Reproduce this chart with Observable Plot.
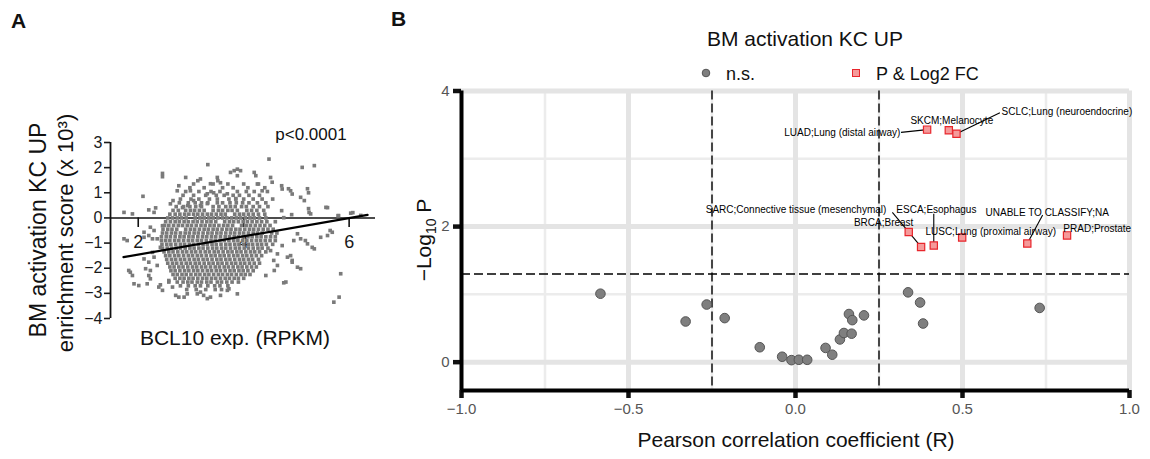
<!DOCTYPE html>
<html>
<head>
<meta charset="utf-8">
<script src="https://cdn.jsdelivr.net/npm/d3@7"></script>
<script src="https://cdn.jsdelivr.net/npm/@observablehq/plot@0.6"></script>
<style>
html,body{margin:0;padding:0;background:#fff;}
#wrap{position:relative;width:1150px;height:459px;overflow:hidden;font-family:"Liberation Sans",Arial,Helvetica,sans-serif;}
#wrap svg{position:absolute;overflow:visible;}
</style>
</head>
<body>
<div id="wrap"></div>
<script>
// ---------------- Panel A data ----------------
const aYTicks = [-4, -3, -2, -1, 0, 1, 2, 3];
const aXTicks = [2, 4, 6];
const aXDomain = [1.474, 6.5];
const aYDomain = [-4, 3];
const regX = [1.72, 6.35];
const regY = [-1.56, 0.12];

// scattered samples (BCL10 RPKM, enrichment score x10^3)
const sparsePts = [
  [4.48,2.34],[3.32,2.12],[2.46,1.77],[2.46,1.64],[5.11,2.01],[5.34,2.08],[2.09,0.86],[1.73,0.22],
  [1.89,0.16],[2.20,0.32],[2.33,0.40],[2.30,0.22],[2.61,0.56],[2.66,0.69],[2.74,1.08],[2.77,1.28],
  [2.90,1.61],[3.13,1.48],[3.18,1.55],[3.50,1.61],[3.51,1.48],[3.75,1.81],[3.82,1.88],[3.88,1.94],
  [3.94,1.88],[4.20,1.81],[4.23,1.68],[4.26,1.35],[4.35,1.08],[4.51,1.61],[4.54,1.42],[4.72,1.28],
  [4.73,1.15],[4.89,1.08],[4.92,0.95],[5.15,0.69],[5.08,0.82],[5.24,0.22],[5.27,0.16],[5.56,0.42],
  [5.79,0.09],[6.03,0.19],[4.91,0.13],[4.72,0.29],[2.99,1.08],[2.84,0.41],[2.94,0.49],[3.05,0.69],
  [3.37,1.36],[3.56,1.40],[3.88,1.68],[3.31,0.96],[3.43,1.00],[3.69,0.96],[3.18,0.49],[3.31,0.57],
  [3.85,0.77],[5.21,1.16],[5.23,1.00],[5.59,0.41],[5.23,0.37],[4.76,0.01],[5.80,0.09],[6.07,0.21],
  [4.85,1.16],[6.22,0.10],
  [5.02,-0.63],[5.08,-0.83],[5.21,-1.03],[5.34,-1.23],[5.46,-0.77],[5.59,-0.70],[5.68,-0.57],[4.92,-1.69],
  [5.02,-1.96],[5.08,-2.02],[4.80,-2.55],[5.84,-2.22],[5.71,-3.35],[5.81,-3.15],[4.58,-2.09],[4.51,-1.30],
  [4.64,-1.43],[4.76,-2.58],[4.92,-1.76],[4.42,-2.29],[5.30,-1.17],[5.64,-0.50],[5.17,-0.90],[4.95,-0.90],
  [4.83,-1.56],[4.89,-1.50],[4.73,-1.10],[4.64,-1.89],[4.57,-1.69],
  [1.73,-0.83],[1.79,-0.90],[1.82,-2.09],[1.89,-2.29],[1.85,-2.16],[1.92,-2.62],[2.01,-2.69],[2.20,-2.29],
  [2.23,-2.42],[2.17,-2.62],[2.39,-2.75],[2.46,-2.88],[2.42,-2.66],[2.58,-2.55],[2.65,-2.75],[2.71,-3.08],
  [2.77,-3.15],[2.87,-3.15],[2.93,-3.02],[3.12,-3.02],[3.18,-2.95],[3.24,-3.08],[3.31,-3.21],[3.37,-3.15],
  [3.56,-3.08],[3.69,-2.88],[3.72,-2.82],[3.88,-3.02],[2.23,-0.37],[2.30,-0.50],[2.11,-0.77],[2.11,-1.63],
  [2.20,-1.76],[2.30,-1.56],[2.36,-1.89],[2.14,-2.02],[2.27,-1.37],[2.42,-1.17],[2.36,-0.83],[2.11,-0.57],
  [2.20,-0.70],[2.27,-0.83],[2.46,-0.31],[2.23,-2.09],[2.58,-2.49]
];

// dense core of the cloud, read row by row: [score, [BCL10 values]]
const coreRows = [
  [1.35, [3.05, 3.42, 3.70, 4.00, 4.28]],
  [1.20, [2.98, 3.25, 3.60, 3.80, 4.08, 4.40]],
  [1.05, [2.90, 3.15, 3.38, 3.55, 3.88, 4.05, 4.20, 4.45]],
  [0.90, [2.85, 3.05, 3.28, 3.48, 3.63, 3.80, 3.92, 4.10, 4.30]],
  [0.75, [2.80, 3.00, 3.15, 3.35, 3.50, 3.72, 3.85, 4.00, 4.18, 4.35, 4.55]],
  [0.60, [2.78, 2.95, 3.08, 3.20, 3.32, 3.50, 3.60, 3.74, 3.86, 3.98, 4.10, 4.26, 4.42]],
  [0.45, [2.72, 2.86, 2.98, 3.09, 3.20, 3.42, 3.53, 3.66, 3.75, 3.84, 3.96, 4.05, 4.18, 4.30, 4.46]],
  [0.30, [2.66, 2.76, 2.90, 2.99, 3.07, 3.16, 3.25, 3.42, 3.52, 3.60, 3.70, 3.78, 3.88, 4.06, 4.15, 4.25, 4.38]],
  [0.15, [2.60, 2.70, 2.79, 2.88, 2.96, 3.05, 3.13, 3.22, 3.31, 3.39, 3.48, 3.57, 3.65, 3.83, 3.92, 4.00, 4.09, 4.18, 4.28, 4.40]],
  [0.00, [2.56, 2.65, 2.74, 2.82, 2.91, 3.08, 3.17, 3.25, 3.34, 3.42, 3.51, 3.60, 3.68, 3.77, 3.86, 3.94, 4.03, 4.12, 4.20, 4.30, 4.42]],
  [-0.15, [2.52, 2.61, 2.70, 2.78, 2.87, 2.95, 3.04, 3.12, 3.21, 3.30, 3.38, 3.47, 3.64, 3.73, 3.81, 3.90, 3.99, 4.07, 4.16, 4.25, 4.34, 4.44, 4.60]],
  [-0.30, [2.50, 2.58, 2.67, 2.76, 2.84, 2.93, 3.01, 3.10, 3.19, 3.27, 3.36, 3.44, 3.53, 3.62, 3.70, 3.79, 3.96, 4.05, 4.13, 4.22, 4.31, 4.40, 4.50]],
  [-0.45, [2.47, 2.56, 2.64, 2.73, 2.90, 2.99, 3.07, 3.16, 3.25, 3.33, 3.42, 3.50, 3.59, 3.68, 3.76, 3.85, 3.93, 4.02, 4.11, 4.19, 4.28, 4.37, 4.46, 4.56]],
  [-0.60, [2.46, 2.54, 2.63, 2.71, 2.80, 2.89, 2.97, 3.06, 3.14, 3.23, 3.32, 3.40, 3.49, 3.57, 3.66, 3.75, 3.83, 3.92, 4.00, 4.09, 4.18, 4.26, 4.35, 4.53, 4.63]],
  [-0.75, [2.44, 2.53, 2.61, 2.70, 2.79, 2.87, 2.96, 3.04, 3.13, 3.22, 3.30, 3.39, 3.47, 3.56, 3.65, 3.73, 3.82, 3.90, 3.99, 4.08, 4.16, 4.25, 4.33, 4.42, 4.51, 4.60]],
  [-0.90, [2.44, 2.52, 2.60, 2.69, 2.77, 2.86, 2.95, 3.03, 3.12, 3.20, 3.29, 3.38, 3.46, 3.55, 3.63, 3.72, 3.81, 3.89, 3.98, 4.06, 4.15, 4.24, 4.32, 4.41, 4.50, 4.60]],
  [-1.05, [2.45, 2.54, 2.62, 2.71, 2.80, 2.88, 2.97, 3.05, 3.14, 3.23, 3.31, 3.40, 3.48, 3.57, 3.66, 3.74, 3.83, 3.91, 4.00, 4.09, 4.17, 4.26, 4.34, 4.43, 4.55]],
  [-1.20, [2.46, 2.55, 2.63, 2.72, 2.80, 2.89, 2.98, 3.06, 3.15, 3.23, 3.32, 3.41, 3.49, 3.58, 3.66, 3.75, 3.84, 3.92, 4.01, 4.09, 4.18, 4.27, 4.35, 4.46]],
  [-1.35, [2.49, 2.58, 2.66, 2.75, 2.84, 2.92, 3.01, 3.09, 3.18, 3.27, 3.35, 3.44, 3.52, 3.61, 3.70, 3.78, 3.87, 3.95, 4.04, 4.13, 4.21, 4.30, 4.42]],
  [-1.50, [2.52, 2.60, 2.69, 2.77, 2.86, 2.95, 3.03, 3.12, 3.20, 3.29, 3.38, 3.46, 3.55, 3.63, 3.72, 3.81, 3.89, 3.98, 4.06, 4.15, 4.24, 4.34]],
  [-1.65, [2.54, 2.63, 2.71, 2.80, 2.88, 2.97, 3.06, 3.14, 3.23, 3.31, 3.40, 3.49, 3.57, 3.66, 3.74, 3.83, 3.92, 4.00, 4.09, 4.17, 4.28]],
  [-1.80, [2.56, 2.65, 2.73, 2.82, 2.91, 2.99, 3.08, 3.16, 3.25, 3.34, 3.42, 3.51, 3.59, 3.68, 3.77, 3.85, 3.94, 4.02, 4.11, 4.20, 4.30]],
  [-1.95, [2.60, 2.68, 2.77, 2.85, 2.94, 3.03, 3.11, 3.20, 3.28, 3.37, 3.46, 3.54, 3.63, 3.71, 3.80, 3.89, 3.97, 4.06, 4.15, 4.24]],
  [-2.10, [2.62, 2.70, 2.79, 2.88, 2.96, 3.05, 3.13, 3.22, 3.31, 3.39, 3.48, 3.56, 3.65, 3.74, 3.82, 3.91, 3.99, 4.08, 4.18]],
  [-2.25, [2.66, 2.74, 2.83, 2.91, 3.00, 3.09, 3.17, 3.26, 3.34, 3.43, 3.52, 3.60, 3.69, 3.77, 3.86, 3.95, 4.03, 4.12]],
  [-2.40, [2.70, 2.79, 2.87, 2.96, 3.04, 3.13, 3.22, 3.30, 3.39, 3.47, 3.56, 3.65, 3.73, 3.82, 3.90, 4.00]],
  [-2.55, [2.74, 2.85, 2.94, 3.02, 3.12, 3.20, 3.30, 3.38, 3.50, 3.58, 3.68, 3.78, 3.90]],
  [-2.70, [2.80, 2.95, 3.08, 3.18, 3.32, 3.45, 3.55, 3.70]],
  [-2.85, [2.92, 3.10, 3.28, 3.46, 3.58]]
];

// ---------------- Panel B data ----------------
const bXTicks = [-1, -0.5, 0, 0.5, 1];
const bYTicks = [0, 2, 4];
const bMajorX = [-0.5, 0, 0.5, 1];
const bMinorX = [-0.75, -0.25, 0.25, 0.75];
const bMajorY = [0, 2, 4];
const bMinorY = [1, 3];
const rCut = [-0.25, 0.25];
const pCut = [1.301];

// not significant
const nsR = [-0.584, -0.329, -0.266, -0.212, -0.107, -0.040, -0.012, 0.010, 0.035, 0.090, 0.110, 0.133, 0.145, 0.168, 0.160, 0.170, 0.205, 0.337, 0.373, 0.382, 0.731];
const nsP = [1.01, 0.60, 0.85, 0.65, 0.22, 0.08, 0.03, 0.035, 0.035, 0.21, 0.11, 0.335, 0.43, 0.42, 0.71, 0.62, 0.69, 1.03, 0.88, 0.57, 0.80];

// significant (P & Log2 FC)
const sigLabel = ["LUAD;Lung (distal airway)", "SKCM;Melanocyte", "SCLC;Lung (neuroendocrine)", "BRCA;Breast",
  "SARC;Connective tissue (mesenchymal)", "ESCA;Esophagus", "LUSC;Lung (proximal airway)", "UNABLE TO CLASSIFY;NA", "PRAD;Prostate"];
const sigR = [0.394, 0.459, 0.482, 0.339, 0.376, 0.414, 0.499, 0.694, 0.813];
const sigP = [3.43, 3.42, 3.37, 1.92, 1.70, 1.72, 1.84, 1.75, 1.87];
// label anchor (data units) and side
const labR = [0.314, 0.344, 0.617, 0.353, 0.272, 0.302, 0.389, 0.569, 0.802];
const labP = [3.39, 3.56, 3.69, 2.05, 2.25, 2.25, 1.93, 2.20, 1.96];
const labSide = ["end", "start", "start", "end", "end", "start", "start", "start", "start"];
// connector start (data units) — null when the label sits on the point
const conR = [0.316, null, 0.612, null, 0.290, 0.414, null, 0.740, null];
const conP = [3.39, null, 3.68, null, 2.21, 2.19, null, 2.17, null];

// ---------------- build ----------------
const wrap = document.getElementById("wrap");
const FONT = "'Liberation Sans', Arial, Helvetica, sans-serif";
const minus = d => (d < 0 ? "\u2212" + String(-d) : String(d));
const minus1 = d => (d < 0 ? "\u2212" + (-d).toFixed(1) : d.toFixed(1));

const scatter = [];
for (const [x, y] of sparsePts) scatter.push({x, y});
for (const [y, xs] of coreRows) for (const x of xs) scatter.push({x, y});
const reg = regX.map((x, i) => ({x, y: regY[i]}));

const plotA = Plot.plot({
  width: 380, height: 459,
  marginLeft: 110, marginRight: 5, marginTop: 142, marginBottom: 141,
  x: {domain: aXDomain, axis: null},
  y: {domain: aYDomain, axis: null},
  style: {fontFamily: FONT, background: "transparent", overflow: "visible"},
  marks: [
    Plot.axisY({ticks: aYTicks, tickSize: 6, tickPadding: 2, fontSize: 16, tickFormat: minus, label: null, strokeWidth: 1.6, color: "#1a1a1a"}),
    Plot.ruleX([aXDomain[0]], {y1: aYDomain[0], y2: aYDomain[1], strokeWidth: 1.8, stroke: "#111"}),
    Plot.ruleY([0], {x1: aXDomain[0], x2: aXDomain[1], strokeWidth: 1.6, stroke: "#111"}),
    Plot.ruleX(aXTicks, {y1: 0, y2: -0.38, strokeWidth: 1.6, stroke: "#111"}),
    Plot.text(aXTicks, {x: d => d, y: 0, dy: 24, text: d => String(d), fontSize: 18, fill: "#1a1a1a"}),
    Plot.dot(scatter, {x: "x", y: "y", symbol: "square", r: 2.05, fill: "#7a7a7a"}),
    Plot.line(reg, {x: "x", y: "y", stroke: "#000", strokeWidth: 2.2})
  ]
});
plotA.style.left = "0px"; plotA.style.top = "0px";
wrap.appendChild(plotA);

const ns = nsR.map((r, i) => ({r, p: nsP[i]}));
const sig = sigR.map((r, i) => ({r, p: sigP[i], label: sigLabel[i], lr: labR[i], lp: labP[i], side: labSide[i], cr: conR[i], cp: conP[i]}));
const cons = sig.filter(d => d.cr !== null);

const plotB = Plot.plot({
  width: 770, height: 459,
  marginLeft: 81, marginRight: 21, marginTop: 90.5, marginBottom: 69,
  x: {domain: [-1, 1], axis: null},
  y: {domain: [-0.418, 4], axis: null},
  style: {fontFamily: FONT, background: "transparent", overflow: "visible"},
  marks: [
    Plot.ruleX(bMinorX, {stroke: "#ececec", strokeWidth: 2.5}),
    Plot.ruleY(bMinorY, {stroke: "#ececec", strokeWidth: 2.5}),
    Plot.ruleX(bMajorX, {stroke: "#e4e4e4", strokeWidth: 5}),
    Plot.ruleY(bMajorY, {stroke: "#e4e4e4", strokeWidth: 5}),
    Plot.ruleX(rCut, {stroke: "#000", strokeWidth: 1.4, strokeDasharray: "9,4"}),
    Plot.ruleY(pCut, {stroke: "#000", strokeWidth: 1.4, strokeDasharray: "9,4"}),
    Plot.axisX({ticks: bXTicks, tickSize: 8, tickPadding: 5, fontSize: 15, tickFormat: minus1, label: null, strokeWidth: 4.5, stroke: "#111", fill: "#555"}),
    Plot.axisY({ticks: bYTicks, tickSize: 8, tickPadding: 4, fontSize: 15, tickFormat: minus, label: null, strokeWidth: 4.5, stroke: "#111", fill: "#555"}),
    Plot.ruleX([-1], {stroke: "#000", strokeWidth: 4}),
    Plot.ruleY([-0.418], {stroke: "#000", strokeWidth: 4}),
    Plot.dot(ns, {x: "r", y: "p", r: 4.8, fill: "#7f7f7f", stroke: "#555", strokeWidth: 1}),
    Plot.link(cons, {x1: "cr", y1: "cp", x2: "r", y2: "p", stroke: "#000", strokeWidth: 1.1}),
    Plot.dot(sig, {x: "r", y: "p", symbol: "square", r: 4.1, fill: "#f59a9a", stroke: "#e8262c", strokeWidth: 1.2}),
    Plot.text(sig.filter(d => d.side === "start"), {x: "lr", y: "lp", text: "label", textAnchor: "start", fontSize: 10, fill: "#000"}),
    Plot.text(sig.filter(d => d.side === "end"), {x: "lr", y: "lp", text: "label", textAnchor: "end", fontSize: 10, fill: "#000"})
  ]
});
plotB.style.left = "380px"; plotB.style.top = "0px";
wrap.appendChild(plotB);

// ---------------- text overlay (titles, labels, legend) ----------------
const ov = d3.select(wrap).append("svg")
  .attr("width", 1150).attr("height", 459)
  .style("left", "0px").style("top", "0px").style("pointer-events", "none")
  .style("font-family", FONT);

function txt(x, y, s, size, opts = {}) {
  const t = ov.append("text").attr("x", x).attr("y", y).attr("font-size", size)
    .attr("fill", opts.fill || "#111").attr("text-anchor", opts.anchor || "start");
  if (opts.bold) t.attr("font-weight", "bold");
  if (opts.rotate) t.attr("transform", `rotate(-90 ${x} ${y})`);
  t.text(s);
  return t;
}

// panel letters
txt(11, 28, "A", 21, {bold: true});
txt(391, 26, "B", 21, {bold: true});

// panel A texts
txt(46, 230, "BM activation KC UP", 23, {anchor: "middle", rotate: true});
txt(73, 233, "enrichment score (x 10\u00B3)", 22, {anchor: "middle", rotate: true});
txt(311, 140, "p<0.0001", 17, {anchor: "middle"});
txt(235, 345, "BCL10 exp. (RPKM)", 21, {anchor: "middle"});

// panel B title and legend
txt(805, 46, "BM activation KC UP", 21, {anchor: "middle"});
ov.append("circle").attr("cx", 706).attr("cy", 73).attr("r", 3.8).attr("fill", "#7f7f7f").attr("stroke", "#555");
txt(726, 80, "n.s.", 18);
ov.append("rect").attr("x", 852.5).attr("y", 69.5).attr("width", 7).attr("height", 7).attr("fill", "#f59a9a").attr("stroke", "#e8262c");
txt(876, 80, "P & Log2 FC", 18);

// panel B axis titles
txt(796, 447, "Pearson correlation coefficient (R)", 21, {anchor: "middle"});
const yl = ov.append("text").attr("transform", "translate(431,240) rotate(-90)")
  .attr("text-anchor", "middle").attr("font-size", 21).attr("fill", "#111");
yl.append("tspan").text("\u2212Log");
yl.append("tspan").attr("font-size", 14).attr("dy", 5).text("10");
yl.append("tspan").attr("dy", -5).text(" P");
</script>
</body>
</html>
